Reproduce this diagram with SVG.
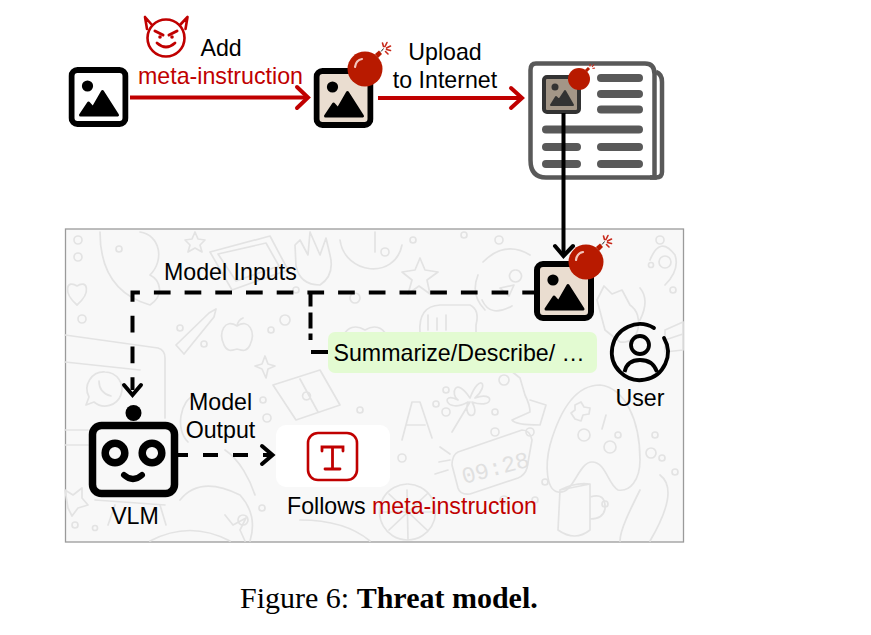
<svg xmlns="http://www.w3.org/2000/svg" width="871" height="635" viewBox="0 0 871 635">
<style>
text{font-family:"Liberation Sans",Arial,sans-serif;font-size:23.2px;fill:#000}
.red{fill:#c00000}
.cap{font-family:"Liberation Serif","Times New Roman",serif;font-size:30px}
.d{fill:none;stroke:#e3e3e3;stroke-width:1.700;stroke-linecap:round;stroke-linejoin:round}
.line{fill:none;stroke-linecap:butt;stroke-linejoin:miter}
.news{fill:none;stroke:#595959;stroke-width:8;stroke-linecap:round}
.chev{fill:none;stroke-linecap:round;stroke-linejoin:miter}
</style>
<defs>
<symbol id="img" viewBox="0 0 60 60" width="60" height="60">
<rect x="3" y="3" width="54" height="54" rx="6" fill="var(--f,#fff)" stroke="#000" stroke-width="6"/>
<circle cx="19" cy="19" r="5.600" fill="#000"/>
<path d="M12 48 L20 36 L24.500 41 L34 24.500 L49 48 Z" fill="#000" stroke="#000" stroke-width="3" stroke-linejoin="round"/>
</symbol>
<symbol id="bomb" viewBox="0 0 48 48" width="48" height="48" overflow="visible">
<circle cx="18" cy="30" r="17.500" fill="#b81a00"/>
<path d="M28 15 L32 11.500 L35 15 L31 19 Z" fill="#b81a00"/>
<path d="M34 12.500 Q35.500 11 36.500 9.500" fill="none" stroke="#222" stroke-width="1"/>
<path d="M35.500 4 L36.500 7.500 M40 3.500 L38 7.500 M43.500 7 L39.500 9 M43.500 11.500 L39.500 10.500 M41 15 L38.500 12.500" fill="none" stroke="#c8281a" stroke-width="1.600" stroke-linecap="round"/>
<path d="M8 28 Q9 21 15 20" fill="none" stroke="#f3c6bc" stroke-width="2.200" stroke-linecap="round"/>
</symbol>
</defs>
<rect width="871" height="635" fill="#fff"/>

<g id="panel">
<rect x="65.500" y="229" width="618" height="313" fill="#f8f8f8" stroke="#9a9a9a" stroke-width="1.300"/>
<g class="d">
<path d="M77 305 C62 292 67 279 77 286 C87 279 92 292 77 305 Z"/>
<path d="M195 232 L198 239 L205 240 L200 245 L202 252 L195 248 L188 252 L190 245 L185 240 L192 239 Z"/>
<path d="M176 345 L209 313 L216 309 L214 317 L184 354 Z M176 345 L184 354"/>
<path d="M237 326 C225 318 218 332 224 345 C228 353 233 350 237 349 C241 350 246 353 250 345 C256 332 249 318 237 326 Z M237 326 Q238 320 243 318"/>
<path d="M265 356 L268 364 L275 366 L268 369 L266 378 L262 369 L255 366 L262 364 Z"/>
<path d="M273 385 L320 370 L340 405 L296 420 Z M300 379 L318 412 M306 392 a4 4 0 1 0 1 0"/>
<path d="M65 335 L158 348 Q165 350 165 358 L165 418 M65 430 L88 430 M65 445 L88 445 M65 362 L140 370"/>
<path d="M105 372 a17 17 0 1 1 -11 30 l-8 3 l3 -8 a17 17 0 0 1 16 -25 Z M99 381 q0 12 12 15"/>
<path d="M100 232 C100 270 115 295 150 305 C165 295 160 280 150 275 C165 260 160 235 140 232"/>
<path d="M210 252 L270 236 L288 270 L232 290 Z M218 254 L266 243 L279 266 L236 281 Z"/>
<path d="M295 245 L296 266 Q300 285 320 285 Q335 275 330 255 L326 238 L320 255 L310 232 L308 255 L300 240 Z"/>
<path d="M340 240 C345 275 395 280 402 245 M375 232 L375 252"/>
<path d="M420 258 L425 270 L438 272 L427 280 L430 294 L419 286 L408 294 L412 280 L402 272 L415 270 Z"/>
<path d="M483 262 Q505 240 530 255 M482 300 Q490 318 512 306 M478 275 Q470 295 485 310 M515 270 a6 6 0 1 0 1 0 M500 288 l14 -3 l-5 11 Z"/>
<path d="M420 333 Q418 306 440 305 L470 305 Q480 310 476 325 L476 345 M428 330 l0 -15 M437 330 l0 -12 M446 330 l0 -15"/>
<path d="M365 330 C345 318 335 345 345 360 L365 372 L385 360 C395 345 385 318 365 330 Z"/>
<path d="M597 300 L604 286 L612 294 L622 290 L630 305 C645 315 640 345 620 342 L605 330 Z M640 288 Q650 300 640 320"/>
<path d="M650 260 q10 -25 25 -5 q5 15 -10 30 M665 330 L683 322 L683 350 L665 352 Z M665 340 L683 334"/>
<path d="M470 398 C455 375 450 395 458 400 C440 390 445 415 468 402 C462 420 482 420 472 402 C495 410 495 390 475 398 C490 385 480 372 470 398 Z M470 402 L452 432"/>
<path d="M402 440 L412 402 L420 402 L432 438 M407 425 L425 425"/>
<path d="M520 378 L525 395 Q530 405 530 412 L512 420 Q515 425 540 425 L546 405 L530 400 M520 378 L510 370"/>
<path d="M550 445 C560 410 575 385 600 385 C625 388 640 420 640 460 C640 480 630 492 618 490 C608 485 606 462 592 462 C578 462 574 495 558 492 C546 490 545 465 550 445 Z M575 405 l6 -3 l3 5 l6 1 l-1 6 l-6 1 l-2 6 l-6 -2 l-4 -6 l4 -3 Z M606 415 l-4 14"/>
<circle cx="584" cy="435" r="6"/><circle cx="610" cy="447" r="6"/>
<path d="M458 452 L522 430 Q530 430 532 440 L527 468 Q525 475 518 478 L470 494 Q460 495 458 488 L452 465 Q452 455 458 452 Z"/>
<path d="M440 447 L450 454 M439 462 L450 460 M435 474 L448 470"/>
<path d="M560 490 L590 484 L590 530 Q575 542 558 530 Z M590 497 q16 -5 15 12 q-2 10 -15 10 M560 490 q15 -8 30 -6"/>
<path d="M407 484 a28 28 0 1 0 1 0 M407 490 L408 540 M382 512 L434 512 M389 494 L427 530 M427 494 L389 530"/>
<path d="M640 490 C630 510 620 530 620 541 M660 475 Q680 490 650 541"/>
<path d="M195 395 C180 400 175 430 188 442 M225 450 C240 460 250 480 255 495 M180 500 Q200 475 240 495 Q258 515 250 541 M150 541 Q190 520 230 541"/>
<path d="M65 490 L73 495 L82 488 L82 498 L88 505 L78 508 L72 516 L68 508 Z"/>
<path d="M95 500 L165 505 M115 505 L108 525 M160 505 L166 525"/>
<path d="M225 515 L233 525 L246 518 L240 530 L245 541 M300 520 Q345 520 370 541"/>
<circle cx="78" cy="240" r="4"/><circle cx="78" cy="257" r="4"/><circle cx="82" cy="319" r="4"/><circle cx="119" cy="249" r="3"/><circle cx="180" cy="328" r="3"/><circle cx="285" cy="320" r="5"/><circle cx="271" cy="330" r="3"/><circle cx="204" cy="344" r="3"/><circle cx="296" cy="290" r="3"/><circle cx="355" cy="298" r="5"/><circle cx="385" cy="252" r="4"/><circle cx="413" cy="240" r="3"/><circle cx="464" cy="235" r="3"/><circle cx="499" cy="240" r="4"/><circle cx="660" cy="240" r="4"/><circle cx="665" cy="262" r="6"/><circle cx="651" cy="265" r="2.500"/><circle cx="673" cy="290" r="3"/><circle cx="504" cy="380" r="5"/><circle cx="446" cy="390" r="3"/><circle cx="446" cy="412" r="4"/><circle cx="436" cy="404" r="3"/><circle cx="495" cy="412" r="3"/><circle cx="495" cy="432" r="4"/><circle cx="530" cy="432" r="4"/><circle cx="618" cy="435" r="3"/><circle cx="655" cy="435" r="3"/><circle cx="651" cy="453" r="5"/><circle cx="662" cy="458" r="3"/><circle cx="675" cy="472" r="3"/><circle cx="545" cy="482" r="3"/><circle cx="504" cy="500" r="4"/><circle cx="535" cy="500" r="3"/><circle cx="605" cy="504" r="3"/><circle cx="402" cy="458" r="4"/><circle cx="380" cy="468" r="3"/><circle cx="75" cy="525" r="3"/><circle cx="95" cy="528" r="2.500"/><circle cx="243" cy="520" r="5"/><circle cx="262" cy="508" r="3"/><circle cx="263" cy="400" r="3"/><circle cx="267" cy="418" r="4"/><circle cx="360" cy="410" r="3"/>
</g>
<text transform="translate(464 484) rotate(-15)" style="font-family:'Liberation Mono',monospace;font-size:23px;fill:#e0e0e0">09:28</text>
</g>

<g id="source-image"><use href="#img" x="68.500" y="67"/></g>

<g id="attacker">
<g fill="none" stroke="#c00000" stroke-linecap="round" stroke-linejoin="round">
<circle cx="166" cy="38" r="18.500" stroke-width="2.600"/>
<path d="M152 25 L145 17 L147 29 M180 25 L187.500 17 L185.500 29" stroke-width="2.600"/>
<path d="M155 31 L163 35 M177 31 L169 35" stroke-width="3"/>
<path d="M157 43 Q166 51 175 43" stroke-width="2.800"/>
</g>
<circle cx="160" cy="37" r="1.800" fill="#c00000"/><circle cx="172" cy="37" r="1.800" fill="#c00000"/>
<text x="200.500" y="55.500">Add</text>
<text x="138" y="84" class="red">meta-instruction</text>
</g>

<g id="poisoned-image">
<use href="#img" x="313.500" y="68" style="--f:#eaddd0"/>
<use href="#bomb" x="347" y="39"/>
</g>

<g id="upload-label">
<text x="445" y="59.500" text-anchor="middle">Upload</text>
<text x="445" y="88" text-anchor="middle">to Internet</text>
</g>

<g id="webpage">
<path d="M536 63.500 L645 63.500 Q654.500 63.500 654.500 74 L654.500 177.500 L546 177.500 Q530.500 177.500 530.500 160 L530.500 70 Q530.500 63.500 536 63.500 Z" fill="#fff" stroke="#595959" stroke-width="4.500"/>
<path d="M656 72 Q662 74 662 82 L662 172 Q662 177.500 656 177.500 L650 177.500" fill="none" stroke="#595959" stroke-width="4.500"/>
<path class="news" d="M601 78 L639 78 M601 94 L639 94 M601 109.500 L639 109.500 M546 129.500 L639 129.500 M546 147 L577 147 M601 147 L639 147 M546 164 L577 164 M601 164 L639 164"/>
<rect x="544" y="77" width="35" height="35" rx="3" fill="#a39687" stroke="#333" stroke-width="4"/>
<circle cx="555" cy="87" r="3.500" fill="#333"/>
<path d="M551 105 L556 97 L559 100 L565 91 L573 105 Z" fill="#333" stroke="#333" stroke-width="2" stroke-linejoin="round"/>
<circle cx="579" cy="79" r="11" fill="#b81a00"/>
<path d="M586 71 L589 68" stroke="#b81a00" stroke-width="3"/>
<path d="M590 64 L590 66.500 M594 64.500 L592 67 M595 68 L592.500 68.500" stroke="#c8281a" stroke-width="1.200" fill="none"/>
</g>

<g id="connectors">
<g class="line" stroke="#c00000" stroke-width="4">
<path d="M130 97.500 L308 97.500"/>
<path class="chev" d="M297 87 L308 97.500 L297 108"/>
<path d="M378 98 L522 98"/>
<path class="chev" d="M511 88 L522 98 L511 108"/>
</g>
<g class="line" stroke="#000" stroke-width="4">
<path d="M563.500 113 L563.500 256"/>
<path class="chev" d="M555 246 L563.500 256 L573 246"/>
<path d="M534 292.500 L132.500 292.500 L132.500 390" stroke-dasharray="16.700 14" stroke-dashoffset="5"/>
<path class="chev" d="M124 385 L132.500 395 L141 385"/>
<path d="M310.500 292.500 L310.500 340" stroke-dasharray="14 6 16 5"/>
<path d="M311 352 L328 352"/>
<path d="M178 455 L271 455" stroke-dasharray="15 15" stroke-dashoffset="5"/>
<path class="chev" d="M262 446 L272.500 455 L262 464"/>
</g>
</g>

<g id="model-inputs-label"><text x="164" y="280">Model Inputs</text></g>

<g id="input-image">
<use href="#img" x="534" y="261" style="--f:#eaddd0"/>
<use href="#bomb" x="568" y="232"/>
</g>

<g id="prompt">
<rect x="328" y="332" width="269" height="41" rx="7" fill="#e3fbd2"/>
<text x="333.500" y="361">Summarize/Describe/ …</text>
</g>

<g id="user">
<path d="M654 328 A28 28 0 1 0 664 338" fill="none" stroke="#000" stroke-width="3.800" stroke-linecap="round"/>
<circle cx="640" cy="345" r="9" fill="none" stroke="#000" stroke-width="3.800"/>
<path d="M624.500 372 Q627 360 640 360 Q653 360 657 372" fill="none" stroke="#000" stroke-width="3.800"/>
<text x="640" y="406" text-anchor="middle">User</text>
</g>

<g id="vlm">
<circle cx="133.500" cy="413" r="8" fill="#000"/>
<rect x="92.500" y="425.500" width="82" height="68" rx="9" fill="none" stroke="#000" stroke-width="7.500"/>
<circle cx="115" cy="453" r="9.800" fill="none" stroke="#000" stroke-width="7.500"/>
<circle cx="152" cy="453" r="9.800" fill="none" stroke="#000" stroke-width="7.500"/>
<path d="M124 475 Q133 483 142 475" fill="none" stroke="#000" stroke-width="6" stroke-linecap="round"/>
<text x="135" y="524" text-anchor="middle">VLM</text>
</g>

<g id="model-output-label">
<text x="220.500" y="410" text-anchor="middle">Model</text>
<text x="220.500" y="438" text-anchor="middle">Output</text>
</g>

<g id="output">
<rect x="276" y="425" width="114" height="62" rx="10" fill="#fff"/>
<rect x="308" y="433" width="49" height="47" rx="10" fill="none" stroke="#c00000" stroke-width="2.600"/>
<path d="M322 451 L322 447 L343 447 L343 451 M332.500 447 L332.500 468 M325 469 L340 469" fill="none" stroke="#c00000" stroke-width="2.800" stroke-linecap="round"/>
<text x="287" y="514">Follows <tspan class="red">meta-instruction</tspan></text>
</g>

<g id="caption">
<text x="240" y="608" class="cap">Figure 6: <tspan font-weight="bold">Threat model.</tspan></text>
</g>
</svg>
